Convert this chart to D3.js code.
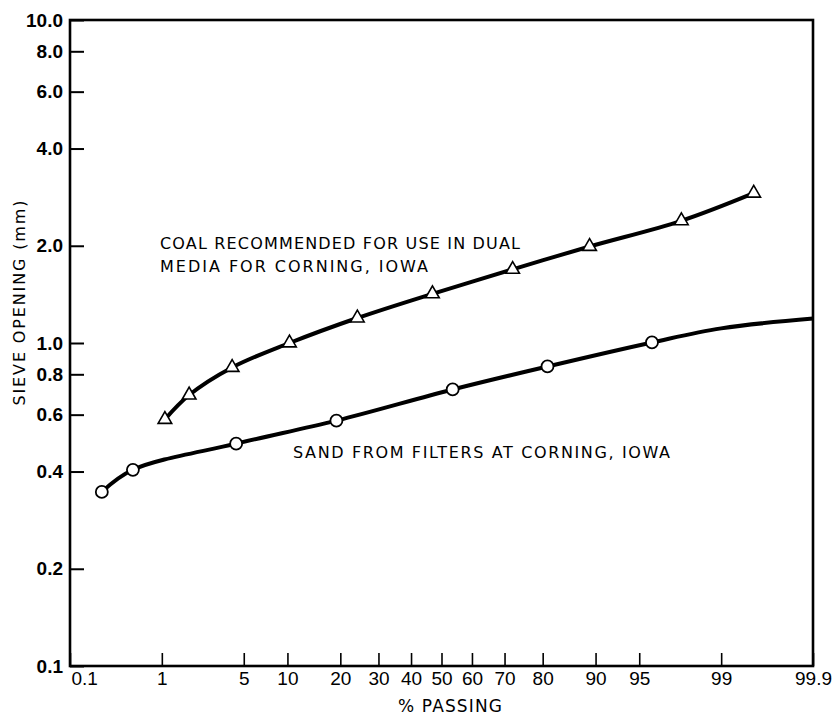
<!DOCTYPE html>
<html>
<head>
<meta charset="utf-8">
<script src="https://cdn.jsdelivr.net/npm/d3@7"></script>
<style>
  body { margin: 0; background: #fff; }
  text { font-family: "Liberation Sans", Arial, sans-serif; fill: #000; }
  .note { font-family: "DejaVu Sans", sans-serif; }
</style>
</head>
<body>
<div id="chart"></div>
<script>
// coal for dual media (triangles)
const coalPassing = [1.07, 1.79, 4.08, 10.3, 24.2, 47.0, 72.3, 89.1, 97.7, 99.53];
const coalSize = [0.58, 0.69, 0.84, 1.0, 1.195, 1.42, 1.69, 1.99, 2.39, 2.91];

// sand from filters (circles)
const sandPassing = [0.236, 0.513, 4.38, 19.1, 53.7, 81.1, 96.0];
const sandSize = [0.346, 0.405, 0.488, 0.575, 0.718, 0.846, 1.004];
// the sand curve runs on past the last sample up to the right edge
const sandTailPassing = [99, 99.9];
const sandTailSize = [1.11, 1.19];

const xTicks = [0.1, 1, 5, 10, 20, 30, 40, 50, 60, 70, 80, 90, 95, 99, 99.9];
const xTickLabels = ["0.1", "1", "5", "10", "20", "30", "40", "50", "60", "70", "80", "90", "95", "99", "99.9"];
const yTicks = [0.1, 0.2, 0.4, 0.6, 0.8, 1.0, 2.0, 4.0, 6.0, 8.0, 10.0];

// inverse normal cdf (Acklam) for the probability axis
function probit(p) {
    const a = [-39.69683028665376, 220.9460984245205, -275.9285104469687, 138.3577518672690, -30.66479806614716, 2.506628277459239];
    const b = [-54.47609879822406, 161.5858368580409, -155.6989798598866, 66.80131188771972, -13.28068155288572];
    const c = [-0.007784894002430293, -0.3223964580411365, -2.400758277161838, -2.549732539343734, 4.374664141464968, 2.938163982698783];
    const d = [0.007784695709041462, 0.3224671290700398, 2.445134137142996, 3.754408661907416];
    const pl = 0.02425;
    let q, r;
    if (p < pl) {
        q = Math.sqrt(-2 * Math.log(p));
        return (((((c[0]*q+c[1])*q+c[2])*q+c[3])*q+c[4])*q+c[5]) / ((((d[0]*q+d[1])*q+d[2])*q+d[3])*q+1);
    } else if (p <= 1 - pl) {
        q = p - 0.5; r = q * q;
        return (((((a[0]*r+a[1])*r+a[2])*r+a[3])*r+a[4])*r+a[5])*q / (((((b[0]*r+b[1])*r+b[2])*r+b[3])*r+b[4])*r+1);
    }
    q = Math.sqrt(-2 * Math.log(1 - p));
    return -(((((c[0]*q+c[1])*q+c[2])*q+c[3])*q+c[4])*q+c[5]) / ((((d[0]*q+d[1])*q+d[2])*q+d[3])*q+1);
}

const W = 832, H = 715;
const margin = {top: 20, right: 19, bottom: 49, left: 70};
const width = W - margin.left - margin.right;
const height = H - margin.top - margin.bottom;

const svg = d3.select("#chart").append("svg")
    .attr("width", W)
    .attr("height", H);

const g = svg.append("g")
    .attr("transform", `translate(${margin.left},${margin.top})`);

const xz = d3.scaleLinear()
    .domain([probit(0.001), probit(0.999)])
    .range([0, width]);
const x = p => xz(probit(p / 100));

const y = d3.scaleLog()
    .domain([0.1, 10])
    .range([height, 0]);

// y axis, ticks point inward
const yAxis = g.append("g")
    .call(d3.axisLeft(y).tickValues(yTicks).tickSize(-14).tickPadding(7).tickFormat(d3.format(".1f")));
yAxis.select(".domain").remove();
yAxis.selectAll(".tick line").attr("stroke-width", 2);
yAxis.selectAll(".tick text")
    .style("font-size", "19px")
    .style("font-weight", "bold")
    .attr("font-family", null);

// x axis on probability scale, ticks point up
const xAxis = g.append("g")
    .attr("transform", `translate(0,${height})`)
    .call(d3.axisBottom(xz)
        .tickValues(xTicks.map(p => probit(p / 100)))
        .tickSize(-13)
        .tickPadding(6)
        .tickFormat((d, i) => xTickLabels[i]));
xAxis.select(".domain").remove();
xAxis.selectAll(".tick line").attr("stroke-width", 1.6);
xAxis.selectAll(".tick text")
    .style("font-size", "19px")
    .attr("font-family", null);
xAxis.selectAll(".tick text").filter((d, i) => i === 0)
    .attr("text-anchor", "start").attr("x", 1);

// frame
g.append("rect")
    .attr("width", width)
    .attr("height", height)
    .attr("fill", "none")
    .attr("stroke", "#000")
    .attr("stroke-width", 2.6);

const line = d3.line()
    .x(d => x(d[0]))
    .y(d => y(d[1]))
    .curve(d3.curveCatmullRom.alpha(0.5));

const coal = coalPassing.map((p, i) => [p, coalSize[i]]);
const sand = sandPassing.map((p, i) => [p, sandSize[i]]);
const sandCurve = sand.concat(sandTailPassing.map((p, i) => [p, sandTailSize[i]]));

g.append("path")
    .attr("d", line(coal))
    .attr("fill", "none")
    .attr("stroke", "#000")
    .attr("stroke-width", 4);

g.append("path")
    .attr("d", line(sandCurve))
    .attr("fill", "none")
    .attr("stroke", "#000")
    .attr("stroke-width", 4);

g.selectAll(".tri")
    .data(coal)
    .join("path")
    .attr("class", "tri")
    .attr("transform", d => `translate(${x(d[0])},${y(d[1])})`)
    .attr("d", d3.symbol(d3.symbolTriangle, 80))
    .attr("fill", "#fff")
    .attr("stroke", "#000")
    .attr("stroke-width", 1.6);

g.selectAll(".dot")
    .data(sand)
    .join("circle")
    .attr("class", "dot")
    .attr("cx", d => x(d[0]))
    .attr("cy", d => y(d[1]))
    .attr("r", 6)
    .attr("fill", "#fff")
    .attr("stroke", "#000")
    .attr("stroke-width", 1.8);

// labels
svg.append("text")
    .attr("class", "note")
    .attr("x", 160).attr("y", 249)
    .attr("textLength", 360)
    .style("font-size", "16px")
    .text("COAL RECOMMENDED FOR USE IN DUAL");
svg.append("text")
    .attr("class", "note")
    .attr("x", 160).attr("y", 272)
    .attr("textLength", 268)
    .style("font-size", "16px")
    .text("MEDIA FOR CORNING, IOWA");
svg.append("text")
    .attr("class", "note")
    .attr("x", 293).attr("y", 458)
    .attr("textLength", 377)
    .style("font-size", "16px")
    .text("SAND FROM FILTERS AT CORNING, IOWA");

svg.append("text")
    .attr("class", "note")
    .attr("transform", "translate(25,303) rotate(-90)")
    .attr("text-anchor", "middle")
    .attr("textLength", 205)
    .style("font-size", "16px")
    .text("SIEVE OPENING (mm)");

svg.append("text")
    .attr("class", "note")
    .attr("x", 450).attr("y", 712)
    .attr("text-anchor", "middle")
    .attr("textLength", 104)
    .style("font-size", "17px")
    .text("% PASSING");
</script>
</body>
</html>
